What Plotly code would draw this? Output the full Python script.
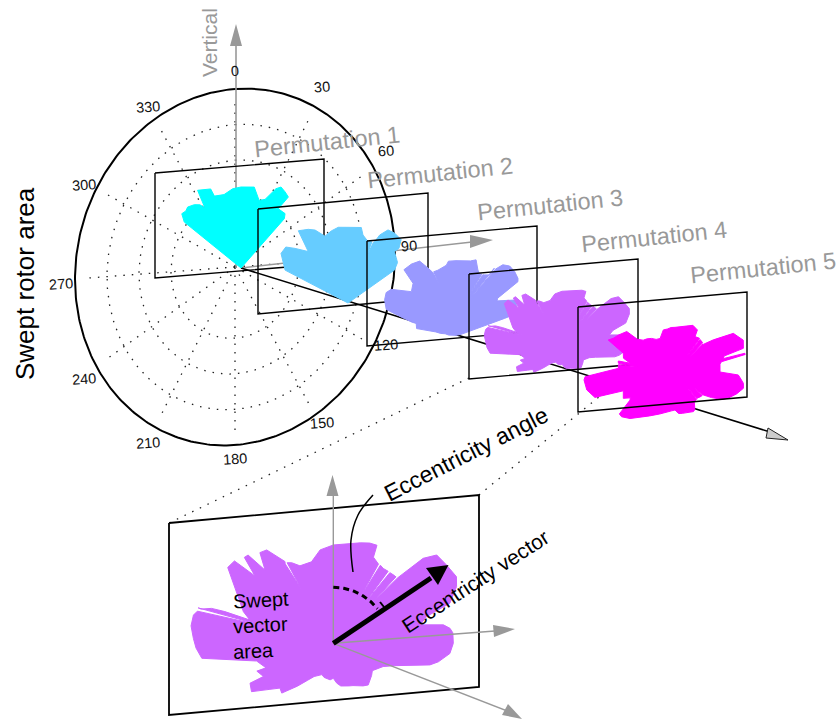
import numpy as np
import plotly.graph_objects as go

# ---- swept-area outline per permutation (angle in degrees clockwise from vertical, radius) ----
perm1_angle = [-51,-47.5,-44,-41.2,-36.4,-33,-31,-29.2,-25,-21,-20.3,-13,-6,0,9.3,15,19.3,23.8,26.3,30,33.7,32.2,39,41.3]
perm1_radius = [219,241,238,243,236,226,210,267,260,254,230,226,239,243,246,210,218,260,271,264,256,210,210,197]

perm2_angle = [-62.4,-53.5,-48,-44.1,-37.7,-34.5,-28.3,-24.3,-19,-13,-7.3,0,10,12.4,18,23.5,25,28.7,33.8,40,43,42,50.7,54.7]
perm2_radius = [213,250,251,228,195,263,251,240,212,222,229,227,230,209,194,200,225,250,252,248,224,208,192,171]

perm3_angle = [0,10,15,20,26,30,35.6,40,43,47.6,53.5,59.4,61.7,68,71,75.7,79,85,90,94,100,105,110,115,120,125,130,135,140,150,165,180,190,200,210,220,230,240,245,251,258,261,268,274.6,282,287.8,291.6,297.6,306.4,311,318.8,326,328.5,332,338,345,349,352]
perm3_radius = [163,165,168,176,150,142,148,157,206,218,219,216,211,135,130,182,184,182,171,146,119,104,93,84,78,72,69,65,63,61,60,61,62,64,65,72,79,94,104,125,122,135,165,210,219,220,209,151,160,207,203,195,170,147,145,148,152,163]

perm4_angle = [0,5,10,15,20,24,25,29,33.7,41,44.5,46.6,49.5,55.3,61.6,65.3,71,74,78,80.5,82.7,85,90,95,100,102.6,105,110,115,125,130,140,145,150,155,160,165,170,175,180,185,190,195,200,207,210,215,220,226,230,234,239.4,244.4,244.6,250,250,257,263.5,268,272,277,281.4,284.5,286,286.3,285.6,289.4,295,300,305,305.7,309.8,310.7,314,316,317,321,324.5,329.4,332.7,336.7,345,352,359]
perm4_radius = [295,298,303,312,320,322,285,277,270,273,275,371,408,413,420,407,370,291,266,335,353,360,360,351,320,297,251,196,165,143,150,163,156,146,140,136,132,130,120,105,110,107,106,100,110,115,136,168,215,209,235,285,277,232,244,215,236,397,412,420,430,428,410,380,339,260,286,312,343,383,390,386,310,371,368,300,350,344,285,272,253,253,283,292]

perm5_angle = [0,10,15,21,28,29.5,35.8,43,45,50,55.2,56.5,65,70.9,72,74.5,75,76,77.5,80,90,92.7,95,99.4,103.4,109.6,116,120,125,130,135,140.5,147,152,155,160,170,175,180,185,190,200,210,220,224,230,233,238,240,243,250,252.4,258.5,265,267,273.7,280,281,281.1,285,290,295.6,298.6,303,310,311,315,320,325,330,336,340,344.5,350,355]
perm5_radius = [134,138,144,150,143,122,125,121,115,150,195,210,226,217,155,150,217,217,143,137,135,190,196,208,211,196,178,165,134,110,106,102,106,127,131,129,126,125,114,117,122,134,152,179,194,209,209,159,155,174,165,252,270,274,270,170,173,173,137,160,165,222,211,203,189,150,135,130,123,113,110,118,131,131,134]

perm2_slits = [(22,150)]
perm3_slits = [(33,62),(40,62),(332,110)]
perm4_slits = [(30.4,160),(38,150),(44,170),(329.5,190),(284,220)]
perm5_slits = [(37,58),(44,64),(141,50),(130,70),(278,110)]

perm_names = ["Permutation 1","Permutation 2","Permutation 3","Permutation 4","Permutation 5"]
perm_colors = ["#00FFFF","#66CCFF","#9999FF","#CC66FF","#FF00FF"]
polar_ticks = [0,30,60,90,120,150,180,210,240,270,300,330]
ring_levels = [0.4,0.6,0.8]

# ---- layout of the sketch ----
CX, CY, RX, RY, SHEAR = 235, 267, 160, 178, 12

def disc(r, deg):
    t = np.radians(deg)
    return CX + r*RX*np.sin(t), CY - r*SHEAR*np.sin(t) - r*RY*np.cos(t)

fig = go.Figure()

def line(xs, ys, color="black", width=1.5, dash=None, shape="linear"):
    fig.add_trace(go.Scatter(x=list(xs), y=list(ys), mode="lines", hoverinfo="skip",
                             line=dict(color=color, width=width, dash=dash, shape=shape)))

def head(tip, a, b, color, outline=None):
    fig.add_trace(go.Scatter(x=[tip[0],a[0],b[0],tip[0]], y=[tip[1],a[1],b[1],tip[1]], mode="lines", fill="toself",
                             fillcolor=color, hoverinfo="skip",
                             line=dict(color=outline or color, width=1 if outline else 0)))

def rect(x0, x1, ytl, ytr, h, width=1.4):
    line([x0,x1,x1,x0,x0],[ytl,ytr,ytr+h,ytl+h,ytl], width=width)

def fan(angles, radii, ox, oy, scale, color, slits=(), partial=False):
    va, vr = list(angles), list(radii)
    for s, inner in sorted(slits, reverse=True):
        k = next((i for i, a in enumerate(va) if a > s), len(va))
        r0 = vr[k-1] if k > 0 else vr[0]
        r1 = vr[k] if k < len(vr) else vr[-1]
        rm = (r0+r1)/2
        va[k:k] = [s-0.7, s, s+0.7]
        vr[k:k] = [rm, inner, rm]
    t = np.radians(va); r = np.array(vr, float)*scale
    x = ox + r*np.sin(t); y = oy - r*np.cos(t)
    if partial:
        x = np.r_[ox, x, ox]; y = np.r_[oy, y, oy]
    else:
        x = np.r_[x, x[0]]; y = np.r_[y, y[0]]
    fig.add_trace(go.Scatter(x=x, y=y, mode="lines", fill="toself", fillcolor=color, hoverinfo="skip",
                             line=dict(color=color, width=1)))

GRAY = "#999999"
DOT = "1.5px,7px"
# polar disc
th = np.linspace(0, 360, 361)
for lv in ring_levels:
    line(*disc(lv, th), color="#222222", width=1.3, dash=DOT)
for d in polar_ticks:
    xx, yy = disc(np.array([0, 0.94]), d)
    line(xx, yy, color="#222222", width=1.3, dash=DOT)
line(*disc(1, th), width=2)

# perspective axes through the first rotor centre
O1 = (241, 268)
line([236,236],[268,45], color=GRAY, width=1.6)
head((236,24),(230,46),(242,46),GRAY)
line([O1[0],472],[O1[1],242], color=GRAY, width=1.4)
head((493,240),(470,235),(470,248),GRAY)
line([O1[0],770],[O1[1],432], width=1.6)
head((788,440),(768,428),(766,438),"#CCCCCC","#222222")

# connectors to the enlarged panel
line([469,169],[378,523], color="#222222", width=1.3, dash=DOT)
line([638,479],[365,495], color="#222222", width=1.3, dash=DOT)

# permutations, each fan then its frame
fan(perm1_angle, perm1_radius, 241, 268, 1/3, perm_colors[0], partial=True)
rect(155,324,173,159,105)
fan(perm2_angle, perm2_radius, 348, 303, 1/3, perm_colors[1], perm2_slits, partial=True)
rect(258,428,209,193,105)
fan(perm3_angle, perm3_radius, 456, 315, 1/3, perm_colors[2], perm3_slits)
rect(367,537,241,226,105)
fan(perm4_angle, perm4_radius, 562, 345, 1/5.49, perm_colors[3], perm4_slits)
rect(469,638,274,259,105)
fan(perm5_angle, perm5_radius, 675, 372, 1/3, perm_colors[4], perm5_slits)
rect(578,747,307,292,105)

# enlarged panel
ZX, ZY = 333.3, 643.3
fan(perm4_angle, perm4_radius, ZX, ZY, 1/3, perm_colors[3], perm4_slits)
rect(169,479,523,495,192,width=1.8)
line([ZX,ZX],[ZY,494], color=GRAY, width=1.4)
head((332.5,475),(326.5,496),(338.5,496),GRAY)
line([ZX,495],[ZY,631], color=GRAY, width=1.4)
head((515,629),(493,625),(494,637),GRAY)
line([ZX,510],[ZY,712], color=GRAY, width=1.4)
head((522,719),(508,704),(502,715),GRAY)
# eccentricity vector and angle
line([ZX,431],[ZY,578], width=5)
head((448.5,565),(426,568),(438,585),"black")
ang = np.linspace(0, 52, 30)
line(ZX+56*np.sin(np.radians(ang)), ZY-56*np.cos(np.radians(ang)), width=3, dash="6px,4px")
line([380,384],[602,607], width=2)
line([373,358,351,353],[495,515,540,572], width=1.5, shape="spline")

# text
def label(x, y, text, size, color="black", angle=0, anchor="center"):
    fig.add_annotation(x=x, y=y, text=text, showarrow=False, xanchor=anchor, yanchor="middle", textangle=angle,
                       font=dict(family="Liberation Sans, Arial", size=size, color=color))

for d in polar_ticks:
    lx, ly = disc(1.09, d)
    label(float(lx), float(ly - 6*np.sin(np.radians(d)) - 2), str(d), 14.5, "#111111", -4)

label(327,142,perm_names[0],23.5,GRAY,-6)
label(440,173,perm_names[1],23.5,GRAY,-6)
label(550,205,perm_names[2],23.5,GRAY,-6)
label(654,237,perm_names[3],23.5,GRAY,-6)
label(763,268,perm_names[4],23.5,GRAY,-6)
label(209,43,"Vertical",21,GRAY,-90)
label(25,284,"Swept rotor area",26,"black",-90)
label(466,454,"Eccentricity angle",23,"black",-27)
label(475,581,"Eccentricity vector",21,"black",-33)
label(230,600,"Swept",20,"black",-3,"left")
label(230,625,"vector",20,"black",-3,"left")
label(230,651,"area",20,"black",-3,"left")

fig.update_layout(width=838, height=722, margin=dict(l=0,r=0,t=0,b=0), showlegend=False,
                  paper_bgcolor="white", plot_bgcolor="white",
                  xaxis=dict(range=[0,838], visible=False, fixedrange=True),
                  yaxis=dict(range=[722,0], visible=False, fixedrange=True))
fig.write_html("out.html", post_script="document.body.style.margin='0';document.body.style.overflow='hidden';",
               config=dict(displayModeBar=False))
